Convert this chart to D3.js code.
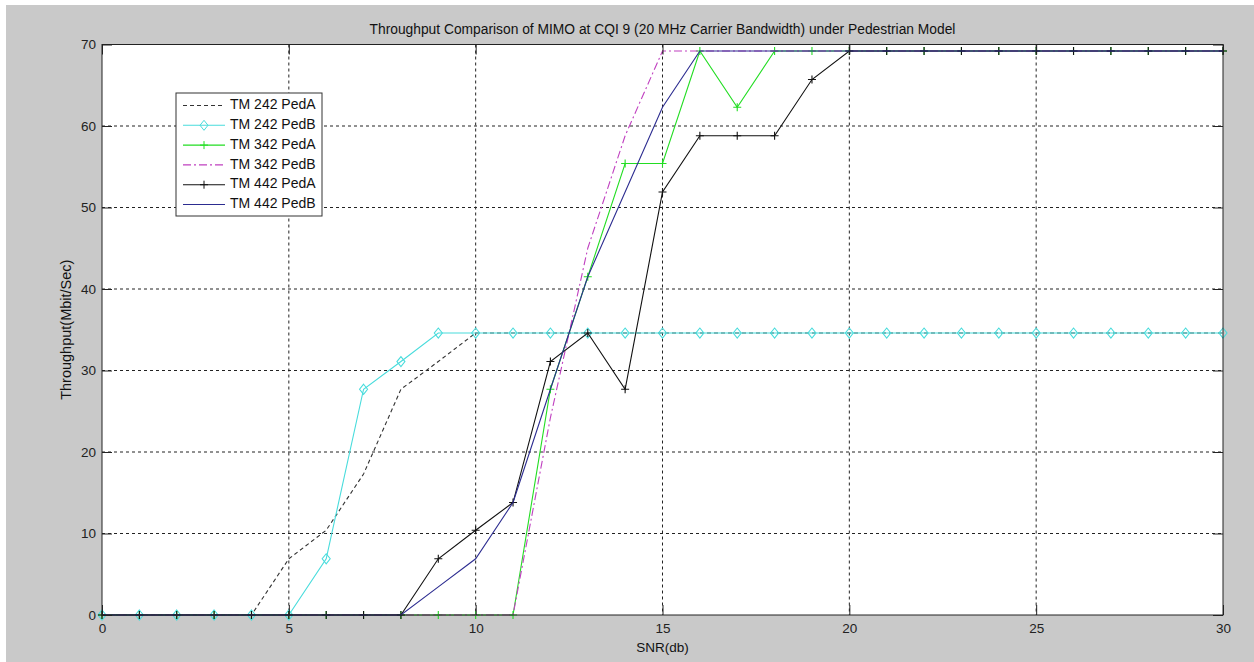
<!DOCTYPE html>
<html>
<head>
<meta charset="utf-8">
<script src="https://cdn.jsdelivr.net/npm/d3@7"></script>
<style>
  body { margin: 0; background: #fff; }
  svg { display: block; font-family: 'Liberation Sans', Arial, sans-serif; }
</style>
</head>
<body>
<svg></svg>
<script>
// SNR points 0..30 dB
let snr = [ 0, 1, 2, 3, 4, 5, 6, 7, 8, 9, 10, 11, 12, 13, 14, 15, 16, 17, 18, 19, 20,
  21, 22, 23, 24, 25, 26, 27, 28, 29, 30 ]

let tm242PedA = [ 0, 0, 0, 0, 0, 6.9, 10.4, 17.3, 27.7, 31.1, 34.6, 34.6, 34.6, 34.6, 34.6, 34.6,
  34.6, 34.6, 34.6, 34.6, 34.6, 34.6, 34.6, 34.6, 34.6, 34.6, 34.6, 34.6, 34.6, 34.6, 34.6 ]
let tm242PedB = [ 0, 0, 0, 0, 0, 0, 6.9, 27.7, 31.1, 34.6, 34.6, 34.6, 34.6, 34.6, 34.6, 34.6,
  34.6, 34.6, 34.6, 34.6, 34.6, 34.6, 34.6, 34.6, 34.6, 34.6, 34.6, 34.6, 34.6, 34.6, 34.6 ]
let tm342PedA = [ 0, 0, 0, 0, 0, 0, 0, 0, 0, 0, 0, 0, 27.7, 41.5, 55.4, 55.4,
  69.2, 62.3, 69.2, 69.2, 69.2, 69.2, 69.2, 69.2, 69.2, 69.2, 69.2, 69.2, 69.2, 69.2, 69.2 ]
let tm342PedB = [ 0, 0, 0, 0, 0, 0, 0, 0, 0, 0, 0, 0, 24.2, 45, 58.8, 69.2,
  69.2, 69.2, 69.2, 69.2, 69.2, 69.2, 69.2, 69.2, 69.2, 69.2, 69.2, 69.2, 69.2, 69.2, 69.2 ]
let tm442PedA = [ 0, 0, 0, 0, 0, 0, 0, 0, 0, 6.9, 10.4, 13.8, 31.1, 34.6, 27.7, 51.9,
  58.8, 58.8, 58.8, 65.7, 69.2, 69.2, 69.2, 69.2, 69.2, 69.2, 69.2, 69.2, 69.2, 69.2, 69.2 ]
let tm442PedB = [ 0, 0, 0, 0, 0, 0, 0, 0, 0, 3.45, 6.9, 13.8, 27.7, 41.5, 51.9, 62.3,
  69.2, 69.2, 69.2, 69.2, 69.2, 69.2, 69.2, 69.2, 69.2, 69.2, 69.2, 69.2, 69.2, 69.2, 69.2 ]

let seriesNames = [ 'TM 242 PedA', 'TM 242 PedB', 'TM 342 PedA', 'TM 342 PedB', 'TM 442 PedA', 'TM 442 PedB' ]
let xTicks = [ 0, 5, 10, 15, 20, 25, 30 ]
let yTicks = [ 0, 10, 20, 30, 40, 50, 60, 70 ]

let series = [
  { name: seriesNames[0], values: tm242PedA, color: '#333', dash: '4,3', marker: null },
  { name: seriesNames[1], values: tm242PedB, color: '#48dcdc', dash: null, marker: 'diamond' },
  { name: seriesNames[2], values: tm342PedA, color: '#22dd22', dash: null, marker: 'plus' },
  { name: seriesNames[3], values: tm342PedB, color: '#c040c0', dash: '8,3,2,3', marker: null },
  { name: seriesNames[4], values: tm442PedA, color: '#111', dash: null, marker: 'plus' },
  { name: seriesNames[5], values: tm442PedB, color: '#2c2c90', dash: null, marker: null }
]

let width = 1254
let height = 662
let plotL = 102, plotR = 1223, plotT = 44.5, plotB = 615

const xScale =
d3.scaleLinear()
  .domain( [ 0, 30 ] )
  .range( [ plotL, plotR ] )

const yScale =
d3.scaleLinear()
  .domain( [ 0, 70 ] )
  .range( [ plotB, plotT ] )

let chart =
d3.select( 'svg' )
  .attr( 'width', width )
  .attr( 'height', height )

// figure background
chart.append( 'rect' )
  .attr( 'x', 6 ).attr( 'y', 5 )
  .attr( 'width', width - 6 ).attr( 'height', height - 5 )
  .attr( 'fill', '#c9c9c9' )

chart.append( 'rect' )
  .attr( 'x', plotL ).attr( 'y', plotT )
  .attr( 'width', plotR - plotL ).attr( 'height', plotB - plotT )
  .attr( 'fill', '#fff' )

// grid
chart.append( 'g' )
  .selectAll( 'line' )
  .data( xTicks.slice( 1, -1 ) )
  .enter()
  .append( 'line' )
  .attr( 'x1', d => xScale( d ) ).attr( 'x2', d => xScale( d ) )
  .attr( 'y1', plotT ).attr( 'y2', plotB )
  .attr( 'stroke', '#222' )
  .attr( 'stroke-dasharray', '3,3' )

chart.append( 'g' )
  .selectAll( 'line' )
  .data( yTicks.slice( 1, -1 ) )
  .enter()
  .append( 'line' )
  .attr( 'y1', d => yScale( d ) ).attr( 'y2', d => yScale( d ) )
  .attr( 'x1', plotL ).attr( 'x2', plotR )
  .attr( 'stroke', '#222' )
  .attr( 'stroke-dasharray', '3,3' )

// series lines
let line =
d3.line()
  .x( ( d, i ) => xScale( snr[ i ] ) )
  .y( d => yScale( d ) )

let groups =
chart.selectAll( 'g.series' )
  .data( series )
  .enter()
  .append( 'g' )
  .attr( 'class', 'series' )

groups.append( 'path' )
  .attr( 'd', d => line( d.values ) )
  .attr( 'fill', 'none' )
  .attr( 'stroke', d => d.color )
  .attr( 'stroke-width', 1.1 )
  .attr( 'stroke-dasharray', d => d.dash )

function markerPath( type ) {
  if ( type === 'diamond' ) return 'M0,-5L4,0L0,5L-4,0Z'
  return 'M-4,0H4M0,-4V4'
}

groups.filter( d => d.marker )
  .selectAll( 'path.mk' )
  .data( d => d.values.map( ( v, i ) => ( { x: snr[ i ], y: v, s: d } ) ) )
  .enter()
  .append( 'path' )
  .attr( 'class', 'mk' )
  .attr( 'transform', d => `translate(${ xScale( d.x ) },${ yScale( d.y ) })` )
  .attr( 'd', d => markerPath( d.s.marker ) )
  .attr( 'fill', 'none' )
  .attr( 'stroke', d => d.s.color )
  .attr( 'stroke-width', 1.1 )

// axes box and ticks
chart.append( 'rect' )
  .attr( 'x', plotL ).attr( 'y', plotT )
  .attr( 'width', plotR - plotL ).attr( 'height', plotB - plotT )
  .attr( 'fill', 'none' )
  .attr( 'stroke', '#222' )

let xAxis = d3.axisBottom( xScale ).tickValues( xTicks ).tickSizeInner( -10 ).tickSizeOuter( 0 ).tickPadding( 8 )
let yAxis = d3.axisLeft( yScale ).tickValues( yTicks ).tickSizeInner( -10 ).tickSizeOuter( 0 ).tickPadding( 6 )
let xTop = d3.axisTop( xScale ).tickValues( xTicks ).tickSizeInner( -10 ).tickSizeOuter( 0 ).tickFormat( '' )
let yRight = d3.axisRight( yScale ).tickValues( yTicks ).tickSizeInner( -10 ).tickSizeOuter( 0 ).tickFormat( '' )

let axes = [
  chart.append( 'g' ).attr( 'transform', `translate(0,${ plotB })` ).call( xAxis ),
  chart.append( 'g' ).attr( 'transform', `translate(${ plotL },0)` ).call( yAxis ),
  chart.append( 'g' ).attr( 'transform', `translate(0,${ plotT })` ).call( xTop ),
  chart.append( 'g' ).attr( 'transform', `translate(${ plotR },0)` ).call( yRight )
]
axes.forEach( a => {
  a.select( '.domain' ).remove()
  a.selectAll( 'line' ).attr( 'stroke', '#222' )
  a.selectAll( 'text' )
    .attr( 'fill', '#222' )
    .attr( 'font-size', 13.5 )
    .attr( 'font-family', "'Liberation Sans', Arial, sans-serif" )
} )

// title and labels
chart.append( 'text' )
  .text( 'Throughput Comparison of MIMO at CQI 9 (20 MHz Carrier Bandwidth) under Pedestrian Model' )
  .attr( 'x', ( plotL + plotR ) / 2 )
  .attr( 'y', 34 )
  .attr( 'text-anchor', 'middle' )
  .attr( 'font-size', 13.8 )
  .attr( 'fill', '#111' )

chart.append( 'text' )
  .text( 'SNR(db)' )
  .attr( 'x', ( plotL + plotR ) / 2 )
  .attr( 'y', 652 )
  .attr( 'text-anchor', 'middle' )
  .attr( 'font-size', 13.5 )
  .attr( 'fill', '#111' )

chart.append( 'text' )
  .text( 'Throughput(Mbit/Sec)' )
  .attr( 'transform', `translate(71,${ ( plotT + plotB ) / 2 }) rotate(-90)` )
  .attr( 'text-anchor', 'middle' )
  .attr( 'font-size', 14.5 )
  .attr( 'fill', '#111' )

// legend
let legend =
chart.append( 'g' )
  .attr( 'transform', 'translate(176,93)' )

legend.append( 'rect' )
  .attr( 'width', 146 )
  .attr( 'height', 123 )
  .attr( 'fill', '#fff' )
  .attr( 'stroke', '#333' )

let rows =
legend.selectAll( 'g.row' )
  .data( series )
  .enter()
  .append( 'g' )
  .attr( 'class', 'row' )
  .attr( 'transform', ( d, i ) => `translate(0,${ 12.5 + i * 19.8 })` )

rows.append( 'line' )
  .attr( 'x1', 7 ).attr( 'x2', 49 )
  .attr( 'stroke', d => d.color )
  .attr( 'stroke-width', 1.1 )
  .attr( 'stroke-dasharray', d => d.dash )

rows.filter( d => d.marker )
  .append( 'path' )
  .attr( 'transform', 'translate(28,0)' )
  .attr( 'd', d => markerPath( d.marker ) )
  .attr( 'fill', 'none' )
  .attr( 'stroke', d => d.color )

rows.append( 'text' )
  .text( d => d.name )
  .attr( 'x', 54 )
  .attr( 'dominant-baseline', 'middle' )
  .attr( 'font-size', 14 )
  .attr( 'fill', '#111' )
</script>
</body>
</html>
